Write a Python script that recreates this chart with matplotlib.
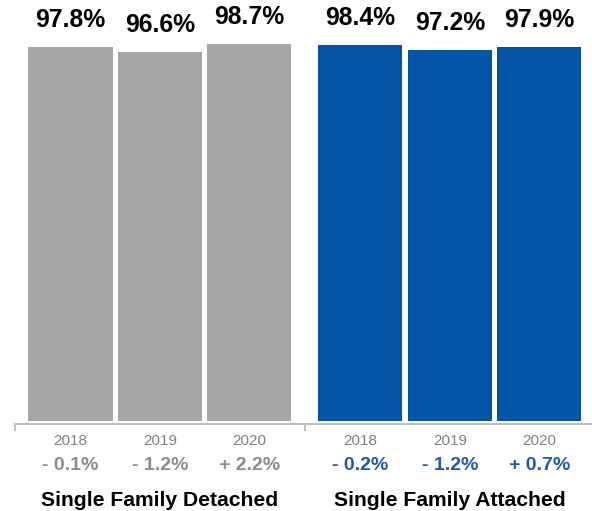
import matplotlib
matplotlib.use("Agg")
import matplotlib.pyplot as plt

plt.rcParams['font.family'] = ['Liberation Sans', 'DejaVu Sans']

groups = ["Single Family Detached", "Single Family Attached"]
years = ["2018", "2019", "2020"]
detached = [97.8, 96.6, 98.7]
attached = [98.4, 97.2, 97.9]
detached_change = ["- 0.1%", "- 1.2%", "+ 2.2%"]
attached_change = ["- 0.2%", "- 1.2%", "+ 0.7%"]

gray = "#a6a6a6"
blue = "#0254a4"
blue_text = "#1a5ca8"
gray_text = "#8c8c8c"
year_color = "#808080"
axis_color = "#c0c0c0"

W, H = 592, 511
fig = plt.figure(figsize=(W / 100, H / 100), dpi=100)
ax = fig.add_axes([15 / W, (H - 424) / H, (W - 15) / W, 424 / H])

step = 1.0
width = 0.94
gshift = 3.24
pos_d = [i * step for i in range(3)]
pos_a = [gshift + i * step for i in range(3)]

ax.bar(pos_d, detached, width=width, color=gray, zorder=2)
ax.bar(pos_a, attached, width=width, color=blue, zorder=2)

for xs, vals in ((pos_d, detached), (pos_a, attached)):
    for x, v in zip(xs, vals):
        ax.annotate(f"{v:.1f}%", (x, v), xytext=(0, 14.5), textcoords="offset points",
                    ha="center", va="baseline", fontsize=17.8, fontweight="bold", color="black")

ax.set_xlim(-0.62, 5.83)
ax.set_ylim(-0.8, 110.2)
for s in ("top", "right", "left"):
    ax.spines[s].set_visible(False)
ax.spines["bottom"].set_color(axis_color)
ax.spines["bottom"].set_linewidth(1.5)
ax.set_yticks([])
ax.set_xticks([-0.62, 2.62])
ax.set_xticklabels(["", ""])
ax.tick_params(axis="x", direction="out", length=5, width=1.5, color=axis_color)

def fig_y(py):
    return (H - py) / H

for xs, chg, col in ((pos_d, detached_change, gray_text), (pos_a, attached_change, blue_text)):
    for x, yr, c in zip(xs, years, chg):
        xf = fig.transFigure.inverted().transform(ax.transData.transform((x, 0)))[0]
        fig.text(xf, fig_y(440.5), yr, ha="center", va="center", fontsize=11, color=year_color)
        fig.text(xf, fig_y(465.5), c, ha="center", va="center", fontsize=14, fontweight="bold", color=col)

for xs, g in ((pos_d, groups[0]), (pos_a, groups[1])):
    xf = fig.transFigure.inverted().transform(ax.transData.transform((xs[1], 0)))[0]
    fig.text(xf, fig_y(500), g, ha="center", va="center", fontsize=15.2, fontweight="bold", color="black")

fig.savefig("out.png", dpi=100)
